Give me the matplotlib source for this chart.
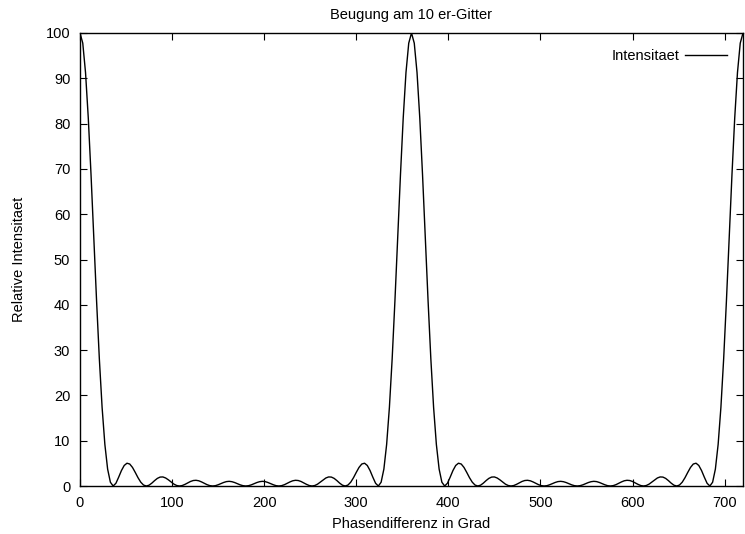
import numpy as np
import matplotlib
matplotlib.use("Agg")
import matplotlib.pyplot as plt

plt.rcParams['font.family'] = ['Liberation Sans', 'DejaVu Sans']
fs = 10.5

phase = np.arange(0, 721, 3)

# relative Intensitaet (%)
intensity = [
    100, 97.76, 91.27, 81.22, 68.64, 54.76, 40.86, 28.09, 17.35, 9.18, 3.73, 0.83, 0,
    0.60, 1.95, 3.41, 4.53, 5.03, 4.85, 4.10, 3.00, 1.83, 0.84, 0.21, 0,
    0.18, 0.63, 1.19, 1.68, 1.97, 2.00, 1.77, 1.36, 0.87, 0.41, 0.11, 0,
    0.10, 0.36, 0.69, 1.00, 1.21, 1.26, 1.15, 0.90, 0.59, 0.29, 0.08, 0,
    0.07, 0.27, 0.53, 0.78, 0.97, 1.03, 0.95, 0.76, 0.50, 0.25, 0.07, 0,
    0.07, 0.25, 0.50, 0.76, 0.95, 1.03, 0.97, 0.78, 0.53, 0.27, 0.07, 0,
    0.08, 0.29, 0.59, 0.90, 1.15, 1.26, 1.21, 1.00, 0.69, 0.36, 0.10, 0,
    0.11, 0.41, 0.87, 1.36, 1.77, 2.00, 1.97, 1.68, 1.19, 0.63, 0.18, 0,
    0.21, 0.84, 1.83, 3.00, 4.10, 4.85, 5.03, 4.53, 3.41, 1.95, 0.60, 0,
    0.83, 3.73, 9.18, 17.35, 28.09, 40.86, 54.76, 68.64, 81.22, 91.27, 97.76, 100,
    97.76, 91.27, 81.22, 68.64, 54.76, 40.86, 28.09, 17.35, 9.18, 3.73, 0.83, 0,
    0.60, 1.95, 3.41, 4.53, 5.03, 4.85, 4.10, 3.00, 1.83, 0.84, 0.21, 0,
    0.18, 0.63, 1.19, 1.68, 1.97, 2.00, 1.77, 1.36, 0.87, 0.41, 0.11, 0,
    0.10, 0.36, 0.69, 1.00, 1.21, 1.26, 1.15, 0.90, 0.59, 0.29, 0.08, 0,
    0.07, 0.27, 0.53, 0.78, 0.97, 1.03, 0.95, 0.76, 0.50, 0.25, 0.07, 0,
    0.07, 0.25, 0.50, 0.76, 0.95, 1.03, 0.97, 0.78, 0.53, 0.27, 0.07, 0,
    0.08, 0.29, 0.59, 0.90, 1.15, 1.26, 1.21, 1.00, 0.69, 0.36, 0.10, 0,
    0.11, 0.41, 0.87, 1.36, 1.77, 2.00, 1.97, 1.68, 1.19, 0.63, 0.18, 0,
    0.21, 0.84, 1.83, 3.00, 4.10, 4.85, 5.03, 4.53, 3.41, 1.95, 0.60, 0,
    0.83, 3.73, 9.18, 17.35, 28.09, 40.86, 54.76, 68.64, 81.22, 91.27, 97.76, 100,
]

xticks = [0, 100, 200, 300, 400, 500, 600, 700]
yticks = [0, 10, 20, 30, 40, 50, 60, 70, 80, 90, 100]

fig = plt.figure(figsize=(7.45, 5.34), dpi=100)
ax = fig.add_axes([80/745, 1-486/534, 663/745, 453/534])

ax.plot(phase, intensity, color='black', lw=1.0, label='Intensitaet')

ax.set_xlim(0, 720)
ax.set_ylim(0, 100)
ax.set_xticks(xticks)
ax.set_yticks(yticks)
ax.tick_params(direction='in', length=5, width=0.8, top=True, right=True,
               labelsize=fs)
ax.tick_params(axis='x', pad=7)
ax.tick_params(axis='y', pad=7)
for s in ax.spines.values():
    s.set_linewidth(1.0)

ax.set_title('Beugung am 10 er-Gitter', fontsize=fs, pad=10)
ax.set_xlabel('Phasendifferenz in Grad', fontsize=fs, labelpad=5)
ax.set_ylabel('Relative Intensitaet', fontsize=fs, labelpad=14)

leg = ax.legend(loc='upper right', frameon=False, markerfirst=False,
                handlelength=2.9, handletextpad=0.35,
                borderaxespad=0.7, fontsize=fs)

fig.savefig('out.png', dpi=100)
